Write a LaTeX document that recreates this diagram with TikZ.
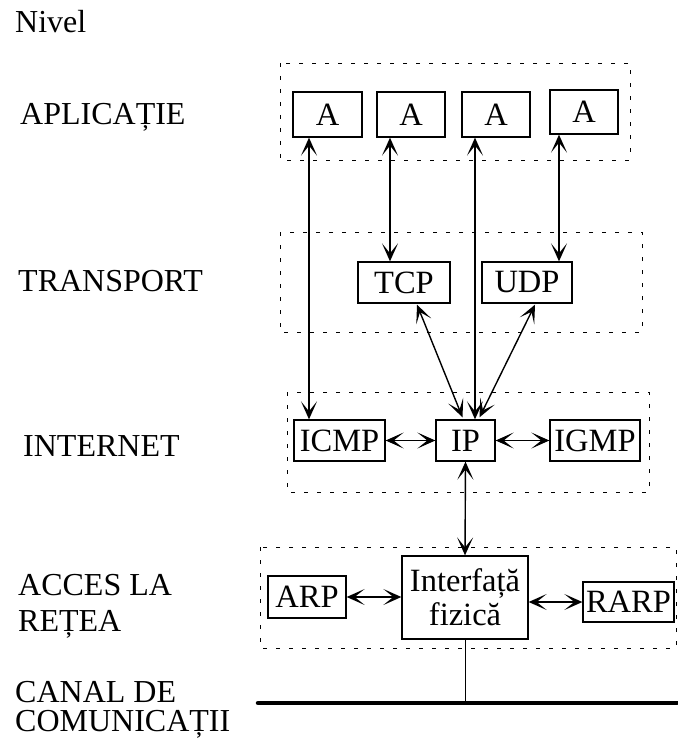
\documentclass[tikz,border=0pt]{standalone}
\usepackage{fontspec}
\setmainfont{Liberation Serif}
\usetikzlibrary{arrows.meta,calc}

\tikzset{
  box/.style={draw, line width=1.3pt, inner sep=0pt, font=\fontsize{32.5}{39}\selectfont},
  lbl/.style={inner sep=0pt, anchor=base west, font=\fontsize{32}{38}\selectfont},
  frame/.style={draw, line width=0.9pt, dash pattern=on 4pt off 9pt},
  link/.style={line width=1.4pt, >={Stealth[length=18pt,width=16pt,inset=10pt]}, <->},
  bus/.style={line width=4.5pt, line cap=round}
}

\begin{document}
\begin{tikzpicture}[x=1pt, y=-1pt]
\useasboundingbox (0,0) rectangle (677,738);

% layer names on the left
\node[lbl] (nivel) at (15,33) {Nivel};
\node[lbl] (lapl)  at (20,125) {APLICAȚIE};
\node[lbl] (ltrn)  at (18,291) {TRANSPORT};
\node[lbl] (lint)  at (23,456) {INTERNET};
\node[lbl, text depth=0pt] (lacc1) at (18,595) {ACCES LA};
\node[lbl] (lacc2) at (18,631) {REȚEA};
\node[lbl, text depth=0pt] (lcan1) at (15,702) {CANAL DE};
\node[lbl, text height=20pt] (lcan2) at (15,731) {COMUNICAȚII};

% dashed layer frames
\draw[frame] (280,63) rectangle (630,160);
\draw[frame] (280,232) rectangle (642,332);
\draw[frame] (287,392) rectangle (649,492);
\draw[frame] (260,547) rectangle (676,648);

% application layer
\node[box, minimum width=69pt, minimum height=45pt] (a1) at (327.5,114.5) {A};
\node[box, minimum width=68pt, minimum height=45pt] (a2) at (411,114.5) {A};
\node[box, minimum width=68pt, minimum height=45pt] (a3) at (496,114.5) {A};
\node[box, minimum width=68pt, minimum height=44pt] (a4) at (584,112) {A};

% transport layer
\node[box, minimum width=92pt, minimum height=41pt] (tcp) at (404,282.5) {TCP};
\node[box, minimum width=90pt, minimum height=41pt] (udp) at (527,282.5) {UDP};

% internet layer
\node[box, minimum width=91pt, minimum height=41pt] (icmp) at (339.5,440.5) {ICMP};
\node[box, minimum width=59pt, minimum height=41pt] (ip)   at (465.5,440.5) {IP};
\node[box, minimum width=90pt, minimum height=41pt] (igmp) at (595,440.5) {IGMP};

% network access layer
\node[box, minimum width=126pt, minimum height=83pt, align=center] (iface) at (465,597.5)
  {Interfață\\[-5pt]fizică};
\node[box, minimum width=78pt, minimum height=42pt] (arp)  at (307,597) {ARP};
\node[box, minimum width=91pt, minimum height=40pt] (rarp) at (628.5,602) {RARP};

% columns of the vertical links
\coordinate (c1) at (309,0);
\coordinate (c2) at (390,0);
\coordinate (c3) at (475,0);
\coordinate (c4) at (559,0);

% communication channel
\coordinate (busL) at (258,703);
\coordinate (busR) at (677,703);
\draw[bus] (busL) -- (busR);

% links
\draw[link] (a1.south -| c1) -- (icmp.north -| c1);
\draw[link] (a2.south -| c2) -- (tcp.north -| c2);
\draw[link] (a3.south -| c3) -- (ip.north -| c3);
\draw[link] (a4.south -| c4) -- (udp.north -| c4);
\draw[link] ($(tcp.south)+(13,1)$) -- ($(ip.north)+(-3,-2)$);
\draw[link] ($(udp.south)+(8,1)$) -- ($(ip.north)+(14,-2)$);
\draw[link] (icmp.east) -- (ip.west);
\draw[link] (ip.east) -- (igmp.west);
\draw[link] (ip.south) -- (iface.north);
\draw[link] (arp.east) -- (arp.east -| iface.west);
\draw[link] (rarp.west -| iface.east) -- (rarp.west);
\draw[line width=1pt] (iface.south) -- (iface.south |- busL);
\end{tikzpicture}
\end{document}
